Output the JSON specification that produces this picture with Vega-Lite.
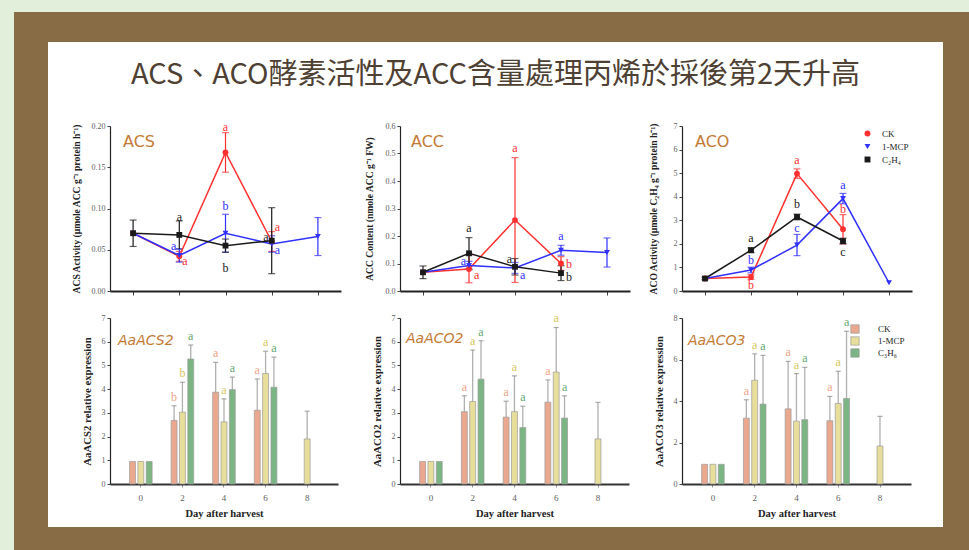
{
  "$schema": "https://vega.github.io/schema/vega-lite/v6.json",
  "background": "white",
  "padding": 0,
  "spacing": 0,
  "config": {
    "view": {"stroke": null},
    "axis": {"labelFont": "Liberation Serif", "titleFont": "Liberation Serif", "labelColor": "#606060", "titleColor": "#222", "titleFontWeight": "bold", "grid": false, "domainColor": "#222", "tickColor": "#444", "labelFontSize": 8, "labelPadding": 2, "tickSize": 3},
    "axisY": {"domainWidth": 1.2, "titleFontSize": 9.6},
    "axisX": {"domainWidth": 1.8},
    "legend": {"labelFont": "Liberation Serif", "labelFontSize": 9, "labelColor": "#222"},
    "text": {"font": "Liberation Serif"},
    "title": {"font": "DejaVu Sans", "fontWeight": "normal", "color": "#c47a35", "anchor": "start", "frame": "group", "baseline": "alphabetic"}
  },
  "datasets": {
    "acs": [
      {"day": 0, "series": "CK", "value": 0.070, "err": 0},
      {"day": 2, "series": "CK", "value": 0.042, "err": 0.006},
      {"day": 4, "series": "CK", "value": 0.168, "err": 0.024},
      {"day": 6, "series": "CK", "value": 0.060, "err": 0.012},
      {"day": 0, "series": "1-MCP", "value": 0.070, "err": 0},
      {"day": 2, "series": "1-MCP", "value": 0.043, "err": 0.008},
      {"day": 4, "series": "1-MCP", "value": 0.070, "err": 0.023},
      {"day": 6, "series": "1-MCP", "value": 0.057, "err": 0.010},
      {"day": 8, "series": "1-MCP", "value": 0.066, "err": 0.023},
      {"day": 0, "series": "C₂H₄", "value": 0.070, "err": 0.016},
      {"day": 2, "series": "C₂H₄", "value": 0.068, "err": 0.017},
      {"day": 4, "series": "C₂H₄", "value": 0.055, "err": 0.008},
      {"day": 6, "series": "C₂H₄", "value": 0.061, "err": 0.040}
    ],
    "acsL": [
      {"day": 2, "series": "C₂H₄", "value": 0.090, "t": "a", "side": "c"},
      {"day": 2, "series": "1-MCP", "value": 0.054, "t": "a", "side": "l"},
      {"day": 2, "series": "CK", "value": 0.036, "t": "a", "side": "r"},
      {"day": 4, "series": "CK", "value": 0.199, "t": "a", "side": "c"},
      {"day": 4, "series": "1-MCP", "value": 0.103, "t": "b", "side": "c"},
      {"day": 4, "series": "C₂H₄", "value": 0.028, "t": "b", "side": "c"},
      {"day": 6, "series": "CK", "value": 0.077, "t": "a", "side": "r"},
      {"day": 6, "series": "C₂H₄", "value": 0.066, "t": "a", "side": "l"},
      {"day": 6, "series": "1-MCP", "value": 0.050, "t": "a", "side": "r"}
    ],
    "acc": [
      {"day": 0, "series": "CK", "value": 0.068, "err": 0},
      {"day": 2, "series": "CK", "value": 0.080, "err": 0.05},
      {"day": 4, "series": "CK", "value": 0.258, "err": 0.227},
      {"day": 6, "series": "CK", "value": 0.100, "err": 0.025},
      {"day": 0, "series": "1-MCP", "value": 0.068, "err": 0},
      {"day": 2, "series": "1-MCP", "value": 0.093, "err": 0.015},
      {"day": 4, "series": "1-MCP", "value": 0.084, "err": 0.02},
      {"day": 6, "series": "1-MCP", "value": 0.148, "err": 0.018},
      {"day": 8, "series": "1-MCP", "value": 0.140, "err": 0.053},
      {"day": 0, "series": "C₂H₄", "value": 0.068, "err": 0.023},
      {"day": 2, "series": "C₂H₄", "value": 0.137, "err": 0.057},
      {"day": 4, "series": "C₂H₄", "value": 0.088, "err": 0.03},
      {"day": 6, "series": "C₂H₄", "value": 0.065, "err": 0.027}
    ],
    "accL": [
      {"day": 2, "series": "C₂H₄", "value": 0.228, "t": "a", "side": "c"},
      {"day": 2, "series": "1-MCP", "value": 0.109, "t": "a", "side": "l"},
      {"day": 2, "series": "CK", "value": 0.057, "t": "a", "side": "r"},
      {"day": 4, "series": "CK", "value": 0.521, "t": "a", "side": "c"},
      {"day": 4, "series": "C₂H₄", "value": 0.118, "t": "a", "side": "l"},
      {"day": 4, "series": "1-MCP", "value": 0.058, "t": "a", "side": "r"},
      {"day": 6, "series": "1-MCP", "value": 0.200, "t": "a", "side": "c"},
      {"day": 6, "series": "CK", "value": 0.100, "t": "b", "side": "r"},
      {"day": 6, "series": "C₂H₄", "value": 0.052, "t": "b", "side": "r"}
    ],
    "aco": [
      {"day": 0, "series": "CK", "value": 0.53, "err": 0},
      {"day": 2, "series": "CK", "value": 0.59, "err": 0.1},
      {"day": 4, "series": "CK", "value": 4.98, "err": 0.2},
      {"day": 6, "series": "CK", "value": 2.62, "err": 0.62},
      {"day": 0, "series": "1-MCP", "value": 0.53, "err": 0},
      {"day": 2, "series": "1-MCP", "value": 0.89, "err": 0.12},
      {"day": 4, "series": "1-MCP", "value": 1.95, "err": 0.45},
      {"day": 6, "series": "1-MCP", "value": 3.92, "err": 0.22},
      {"day": 8, "series": "1-MCP", "value": 0.35, "err": 0},
      {"day": 0, "series": "C₂H₄", "value": 0.53, "err": 0.05},
      {"day": 2, "series": "C₂H₄", "value": 1.73, "err": 0.1},
      {"day": 4, "series": "C₂H₄", "value": 3.14, "err": 0.12},
      {"day": 6, "series": "C₂H₄", "value": 2.12, "err": 0.12}
    ],
    "acoL": [
      {"day": 2, "series": "C₂H₄", "value": 2.26, "t": "a", "side": "c"},
      {"day": 2, "series": "1-MCP", "value": 1.30, "t": "b", "side": "c"},
      {"day": 2, "series": "CK", "value": 0.25, "t": "b", "side": "c"},
      {"day": 4, "series": "CK", "value": 5.54, "t": "a", "side": "c"},
      {"day": 4, "series": "C₂H₄", "value": 3.68, "t": "b", "side": "c"},
      {"day": 4, "series": "1-MCP", "value": 2.66, "t": "c", "side": "c"},
      {"day": 6, "series": "1-MCP", "value": 4.50, "t": "a", "side": "c"},
      {"day": 6, "series": "CK", "value": 3.49, "t": "b", "side": "c"},
      {"day": 6, "series": "C₂H₄", "value": 1.67, "t": "c", "side": "c"}
    ],
    "acs2": [
      {"day": 0, "series": "CK", "value": 0.95},
      {"day": 0, "series": "1-MCP", "value": 0.95},
      {"day": 0, "series": "C₃H₆", "value": 0.95},
      {"day": 2, "series": "CK", "value": 2.68, "hi": 3.30, "t": "b"},
      {"day": 2, "series": "1-MCP", "value": 3.03, "hi": 4.29, "t": "b"},
      {"day": 2, "series": "C₃H₆", "value": 5.27, "hi": 5.86, "t": "a"},
      {"day": 4, "series": "CK", "value": 3.87, "hi": 5.13, "t": "a"},
      {"day": 4, "series": "1-MCP", "value": 2.62, "hi": 3.59, "t": "a"},
      {"day": 4, "series": "C₃H₆", "value": 3.98, "hi": 4.51, "t": "a"},
      {"day": 6, "series": "CK", "value": 3.11, "hi": 4.43, "t": "a"},
      {"day": 6, "series": "1-MCP", "value": 4.66, "hi": 5.60, "t": "a"},
      {"day": 6, "series": "C₃H₆", "value": 4.08, "hi": 5.35, "t": "a"},
      {"day": 8, "series": "1-MCP", "value": 1.90, "hi": 3.07}
    ],
    "aco2": [
      {"day": 0, "series": "CK", "value": 0.95},
      {"day": 0, "series": "1-MCP", "value": 0.95},
      {"day": 0, "series": "C₃H₆", "value": 0.95},
      {"day": 2, "series": "CK", "value": 3.05, "hi": 3.72, "t": "a"},
      {"day": 2, "series": "1-MCP", "value": 3.48, "hi": 5.65, "t": "a"},
      {"day": 2, "series": "C₃H₆", "value": 4.42, "hi": 6.04, "t": "a"},
      {"day": 4, "series": "CK", "value": 2.82, "hi": 3.49, "t": "a"},
      {"day": 4, "series": "1-MCP", "value": 3.05, "hi": 4.56, "t": "a"},
      {"day": 4, "series": "C₃H₆", "value": 2.38, "hi": 3.28, "t": "a"},
      {"day": 6, "series": "CK", "value": 3.45, "hi": 4.39, "t": "a"},
      {"day": 6, "series": "1-MCP", "value": 4.72, "hi": 6.60, "t": "a"},
      {"day": 6, "series": "C₃H₆", "value": 2.78, "hi": 3.72, "t": "a"},
      {"day": 8, "series": "1-MCP", "value": 1.90, "hi": 3.44}
    ],
    "aco3": [
      {"day": 0, "series": "CK", "value": 0.95},
      {"day": 0, "series": "1-MCP", "value": 0.95},
      {"day": 0, "series": "C₃H₆", "value": 0.95},
      {"day": 2, "series": "CK", "value": 3.17, "hi": 4.06, "t": "a"},
      {"day": 2, "series": "1-MCP", "value": 5.00, "hi": 6.27, "t": "a"},
      {"day": 2, "series": "C₃H₆", "value": 3.85, "hi": 6.20, "t": "a"},
      {"day": 4, "series": "CK", "value": 3.62, "hi": 5.91, "t": "a"},
      {"day": 4, "series": "1-MCP", "value": 3.03, "hi": 5.32, "t": "a"},
      {"day": 4, "series": "C₃H₆", "value": 3.10, "hi": 5.62, "t": "a"},
      {"day": 6, "series": "CK", "value": 3.05, "hi": 4.22, "t": "a"},
      {"day": 6, "series": "1-MCP", "value": 3.88, "hi": 5.43, "t": "a"},
      {"day": 6, "series": "C₃H₆", "value": 4.12, "hi": 7.36, "t": "a"},
      {"day": 8, "series": "1-MCP", "value": 1.83, "hi": 3.26}
    ]
  },
  "vconcat": [
    {"width": 969, "height": 12, "data": {"values": []}, "mark": "point", "view": {"fill": "#e2efda", "stroke": null}},
    {
      "spacing": 0,
      "hconcat": [
        {"width": 14, "height": 538, "data": {"values": []}, "mark": "point", "view": {"fill": "#e2efda", "stroke": null}},
        {"width": 34, "height": 538, "data": {"values": []}, "mark": "point", "view": {"fill": "#876c46", "stroke": null}},
        {
          "spacing": 0,
          "vconcat": [
            {"width": 895, "height": 30, "data": {"values": []}, "mark": "point", "view": {"fill": "#876c46", "stroke": null}},
            {
              "width": 895, "height": 78,
              "data": {"values": [{"t": "ACS、ACO酵素活性及ACC含量處理丙烯於採後第2天升高"}]},
              "mark": {"type": "text", "font": "Noto Sans CJK TC", "fontSize": 29, "fontWeight": "normal", "color": "#4e4032", "dy": -6, "baseline": "middle", "align": "center"},
              "encoding": {"text": {"field": "t"}}
            },
            {
              "columns": 6, "spacing": 0, "bounds": "flush", "align": "each",
              "concat": [
                {"width": 61.3, "height": 165, "data": {"values": []}, "mark": "point"},
                {
                  "width": 231, "height": 165,
                  "title": {"text": "ACS", "offset": -29, "dx": 13, "fontSize": 16},
                  "data": {"name": "acs"},
                  "encoding": {
                    "x": {"field": "day", "type": "quantitative", "scale": {"domain": [-1, 9], "nice": false, "zero": false}, "axis": {"values": [0, 2, 4, 6, 8], "labels": false, "title": null, "tickSize": 4}},
                    "y": {"field": "value", "type": "quantitative", "scale": {"domain": [0, 0.2], "nice": false}, "axis": {"values": [0, 0.05, 0.1, 0.15, 0.2], "format": ".2f", "title": "ACS Activity (μmole ACC g⁻¹ protein h⁻¹)", "titlePadding": 10}},
                    "color": {"field": "series", "type": "nominal", "scale": {"domain": ["CK", "1-MCP", "C₂H₄"], "range": ["#ff3030", "#3030ff", "#1a1a1a"]}, "legend": null}
                  },
                  "layer": [
                    {"transform": [{"filter": "datum.err > 0"}], "mark": {"type": "errorbar", "ticks": {"size": 7}, "thickness": 1.2}, "encoding": {"yError": {"field": "err"}}},
                    {"mark": {"type": "line", "strokeWidth": 1.5}},
                    {"mark": {"type": "point", "filled": true, "size": 34, "opacity": 1}, "encoding": {"shape": {"field": "series", "type": "nominal", "scale": {"domain": ["CK", "1-MCP", "C₂H₄"], "range": ["circle", "triangle-down", "square"]}, "legend": null}}},
                    {"data": {"name": "acsL"}, "transform": [{"filter": "datum.side == 'c'"}], "mark": {"type": "text", "fontSize": 12, "baseline": "middle", "align": "center"}, "encoding": {"text": {"field": "t"}}},
                    {"data": {"name": "acsL"}, "transform": [{"filter": "datum.side == 'l'"}], "mark": {"type": "text", "fontSize": 12, "baseline": "middle", "align": "right", "dx": -3}, "encoding": {"text": {"field": "t"}}},
                    {"data": {"name": "acsL"}, "transform": [{"filter": "datum.side == 'r'"}], "mark": {"type": "text", "fontSize": 12, "baseline": "middle", "align": "left", "dx": 3}, "encoding": {"text": {"field": "t"}}}
                  ]
                },
                {"width": 58.7, "height": 165, "data": {"values": []}, "mark": "point"},
                {
                  "width": 230, "height": 165,
                  "title": {"text": "ACC", "offset": -28, "dx": 11, "fontSize": 16},
                  "data": {"name": "acc"},
                  "encoding": {
                    "x": {"field": "day", "type": "quantitative", "scale": {"domain": [-1, 9], "nice": false, "zero": false}, "axis": {"values": [0, 2, 4, 6, 8], "labels": false, "title": null, "tickSize": 4}},
                    "y": {"field": "value", "type": "quantitative", "scale": {"domain": [0, 0.6], "nice": false}, "axis": {"values": [0, 0.1, 0.2, 0.3, 0.4, 0.5, 0.6], "format": ".1f", "title": "ACC Content (nmole ACC g⁻¹ FW)", "titlePadding": 11}},
                    "color": {"field": "series", "type": "nominal", "scale": {"domain": ["CK", "1-MCP", "C₂H₄"], "range": ["#ff3030", "#3030ff", "#1a1a1a"]}, "legend": null}
                  },
                  "layer": [
                    {"transform": [{"filter": "datum.err > 0"}], "mark": {"type": "errorbar", "ticks": {"size": 7}, "thickness": 1.2}, "encoding": {"yError": {"field": "err"}}},
                    {"mark": {"type": "line", "strokeWidth": 1.5}},
                    {"mark": {"type": "point", "filled": true, "size": 34, "opacity": 1}, "encoding": {"shape": {"field": "series", "type": "nominal", "scale": {"domain": ["CK", "1-MCP", "C₂H₄"], "range": ["circle", "triangle-down", "square"]}, "legend": null}}},
                    {"data": {"name": "accL"}, "transform": [{"filter": "datum.side == 'c'"}], "mark": {"type": "text", "fontSize": 12, "baseline": "middle", "align": "center"}, "encoding": {"text": {"field": "t"}}},
                    {"data": {"name": "accL"}, "transform": [{"filter": "datum.side == 'l'"}], "mark": {"type": "text", "fontSize": 12, "baseline": "middle", "align": "right", "dx": -3}, "encoding": {"text": {"field": "t"}}},
                    {"data": {"name": "accL"}, "transform": [{"filter": "datum.side == 'r'"}], "mark": {"type": "text", "fontSize": 12, "baseline": "middle", "align": "left", "dx": 5}, "encoding": {"text": {"field": "t"}}}
                  ]
                },
                {"width": 52, "height": 165, "data": {"values": []}, "mark": "point"},
                {
                  "width": 230, "height": 165,
                  "title": {"text": "ACO", "offset": -28, "dx": 13, "fontSize": 16},
                  "data": {"name": "aco"},
                  "encoding": {
                    "x": {"field": "day", "type": "quantitative", "scale": {"domain": [-1, 9], "nice": false, "zero": false}, "axis": {"values": [0, 2, 4, 6, 8], "labels": false, "title": null, "tickSize": 4}},
                    "y": {"field": "value", "type": "quantitative", "scale": {"domain": [0, 7], "nice": false}, "axis": {"values": [0, 1, 2, 3, 4, 5, 6, 7], "format": "d", "title": "ACO Activity (μmole C₂H₄ g⁻¹ protein h⁻¹)", "titlePadding": 15}}
                  },
                  "layer": [
                    {"transform": [{"filter": "datum.err > 0"}], "mark": {"type": "errorbar", "ticks": {"size": 7}, "thickness": 1.2}, "encoding": {"yError": {"field": "err"}, "color": {"field": "series", "type": "nominal", "scale": {"domain": ["CK", "1-MCP", "C₂H₄"], "range": ["#ff3030", "#3030ff", "#1a1a1a"]}, "legend": null}}},
                    {"mark": {"type": "line", "strokeWidth": 1.5}, "encoding": {"color": {"field": "series", "type": "nominal", "scale": {"domain": ["CK", "1-MCP", "C₂H₄"], "range": ["#ff3030", "#3030ff", "#1a1a1a"]}, "legend": null}}},
                    {"mark": {"type": "point", "filled": true, "size": 34, "opacity": 1}, "encoding": {
                      "color": {"field": "series", "type": "nominal", "scale": {"domain": ["CK", "1-MCP", "C₂H₄"], "range": ["#ff3030", "#3030ff", "#1a1a1a"]}, "legend": {"title": null, "orient": "top-right", "offset": 3, "symbolSize": 35, "rowPadding": 3, "labelOffset": 10}},
                      "shape": {"field": "series", "type": "nominal", "scale": {"domain": ["CK", "1-MCP", "C₂H₄"], "range": ["circle", "triangle-down", "square"]}, "legend": {"title": null, "orient": "top-right", "offset": 3, "symbolSize": 35, "rowPadding": 3, "labelOffset": 10}}}},
                    {"data": {"name": "acoL"}, "mark": {"type": "text", "fontSize": 12, "baseline": "middle", "align": "center"}, "encoding": {"text": {"field": "t"}, "color": {"field": "series", "type": "nominal", "scale": {"domain": ["CK", "1-MCP", "C₂H₄"], "range": ["#ff3030", "#3030ff", "#1a1a1a"]}, "legend": null}}}
                  ],
                  "resolve": {"scale": {"color": "independent", "shape": "independent"}, "legend": {"color": "independent", "shape": "independent"}}
                },
                {"width": 1, "height": 27, "data": {"values": []}, "mark": "point"},
                {"width": 1, "height": 1, "data": {"values": []}, "mark": "point"},
                {"width": 1, "height": 1, "data": {"values": []}, "mark": "point"},
                {"width": 1, "height": 1, "data": {"values": []}, "mark": "point"},
                {"width": 1, "height": 1, "data": {"values": []}, "mark": "point"},
                {"width": 1, "height": 1, "data": {"values": []}, "mark": "point"},
                {"width": 1, "height": 166, "data": {"values": []}, "mark": "point"},
                {
                  "width": 228, "height": 166,
                  "title": {"text": "AaACS2", "offset": -34, "dx": 8, "fontSize": 14, "fontStyle": "italic"},
                  "data": {"name": "acs2"},
                  "encoding": {
                    "x": {"field": "day", "type": "ordinal", "scale": {"paddingInner": 0.457, "paddingOuter": 0.47}, "axis": {"labelAngle": 0, "title": "Day after harvest", "domainColor": "#333", "domainWidth": 2, "tickColor": "#999", "tickSize": 3, "labelFontSize": 9, "labelPadding": 6, "titleFontSize": 10.5, "titlePadding": 6}},
                    "xOffset": {"field": "series", "type": "nominal", "scale": {"domain": ["CK", "1-MCP", "C₃H₆"], "paddingInner": 0.29}},
                    "y": {"field": "value", "type": "quantitative", "scale": {"domain": [0, 7], "nice": false}, "axis": {"values": [0, 1, 2, 3, 4, 5, 6, 7], "title": "AaACS2 relative expression", "titleFontSize": 10.8, "titlePadding": 9}}
                  },
                  "layer": [
                    {"transform": [{"filter": "datum.hi != null"}], "mark": {"type": "rule", "color": "#b0b0b0", "strokeWidth": 1.3}, "encoding": {"y2": {"field": "hi"}}},
                    {"transform": [{"filter": "datum.hi != null"}], "mark": {"type": "tick", "color": "#888", "thickness": 1.2, "size": 5}, "encoding": {"y": {"field": "hi", "type": "quantitative", "title": "AaACS2 relative expression"}}},
                    {"mark": {"type": "bar", "stroke": "#999", "strokeWidth": 0.7, "opacity": 1}, "encoding": {"color": {"field": "series", "type": "nominal", "scale": {"domain": ["CK", "1-MCP", "C₃H₆"], "range": ["#eaa98f", "#e8de9c", "#7cb584"]}, "legend": null}}},
                    {"transform": [{"filter": "datum.t != null"}], "mark": {"type": "text", "fontSize": 12, "baseline": "bottom", "dy": -2, "align": "center"},
                     "encoding": {"y": {"field": "hi", "type": "quantitative", "title": "AaACS2 relative expression"}, "text": {"field": "t"},
                       "color": {"field": "series", "type": "nominal", "scale": {"domain": ["CK", "1-MCP", "C₃H₆"], "range": ["#f0a285", "#d6c65a", "#64a870"]}, "legend": null}}}
                  ],
                  "resolve": {"scale": {"color": "independent"}}
                },
                {"width": 1, "height": 166, "data": {"values": []}, "mark": "point"},
                {
                  "width": 229, "height": 166,
                  "title": {"text": "AaACO2", "offset": -34, "dx": 6, "fontSize": 14, "fontStyle": "italic"},
                  "data": {"name": "aco2"},
                  "encoding": {
                    "x": {"field": "day", "type": "ordinal", "scale": {"paddingInner": 0.457, "paddingOuter": 0.47}, "axis": {"labelAngle": 0, "title": "Day after harvest", "domainColor": "#333", "domainWidth": 2, "tickColor": "#999", "tickSize": 3, "labelFontSize": 9, "labelPadding": 6, "titleFontSize": 10.5, "titlePadding": 6}},
                    "xOffset": {"field": "series", "type": "nominal", "scale": {"domain": ["CK", "1-MCP", "C₃H₆"], "paddingInner": 0.29}},
                    "y": {"field": "value", "type": "quantitative", "scale": {"domain": [0, 7], "nice": false}, "axis": {"values": [0, 1, 2, 3, 4, 5, 6, 7], "title": "AaACO2 relative expression", "titleFontSize": 10.8, "titlePadding": 9}}
                  },
                  "layer": [
                    {"transform": [{"filter": "datum.hi != null"}], "mark": {"type": "rule", "color": "#b0b0b0", "strokeWidth": 1.3}, "encoding": {"y2": {"field": "hi"}}},
                    {"transform": [{"filter": "datum.hi != null"}], "mark": {"type": "tick", "color": "#888", "thickness": 1.2, "size": 5}, "encoding": {"y": {"field": "hi", "type": "quantitative", "title": "AaACO2 relative expression"}}},
                    {"mark": {"type": "bar", "stroke": "#999", "strokeWidth": 0.7, "opacity": 1}, "encoding": {"color": {"field": "series", "type": "nominal", "scale": {"domain": ["CK", "1-MCP", "C₃H₆"], "range": ["#eaa98f", "#e8de9c", "#7cb584"]}, "legend": null}}},
                    {"transform": [{"filter": "datum.t != null"}], "mark": {"type": "text", "fontSize": 12, "baseline": "bottom", "dy": -2, "align": "center"},
                     "encoding": {"y": {"field": "hi", "type": "quantitative", "title": "AaACO2 relative expression"}, "text": {"field": "t"},
                       "color": {"field": "series", "type": "nominal", "scale": {"domain": ["CK", "1-MCP", "C₃H₆"], "range": ["#f0a285", "#d6c65a", "#64a870"]}, "legend": null}}}
                  ],
                  "resolve": {"scale": {"color": "independent"}}
                },
                {"width": 1, "height": 166, "data": {"values": []}, "mark": "point"},
                {
                  "width": 229, "height": 166,
                  "title": {"text": "AaACO3", "offset": -34, "dx": 6, "fontSize": 14, "fontStyle": "italic"},
                  "data": {"name": "aco3"},
                  "encoding": {
                    "x": {"field": "day", "type": "ordinal", "scale": {"paddingInner": 0.457, "paddingOuter": 0.47}, "axis": {"labelAngle": 0, "title": "Day after harvest", "domainColor": "#333", "domainWidth": 2, "tickColor": "#999", "tickSize": 3, "labelFontSize": 9, "labelPadding": 6, "titleFontSize": 10.5, "titlePadding": 6}},
                    "xOffset": {"field": "series", "type": "nominal", "scale": {"domain": ["CK", "1-MCP", "C₃H₆"], "paddingInner": 0.29}},
                    "y": {"field": "value", "type": "quantitative", "scale": {"domain": [0, 8], "nice": false}, "axis": {"values": [0, 2, 4, 6, 8], "title": "AaACO3 relative expression", "titleFontSize": 10.8, "titlePadding": 9}}
                  },
                  "layer": [
                    {"transform": [{"filter": "datum.hi != null"}], "mark": {"type": "rule", "color": "#b0b0b0", "strokeWidth": 1.3}, "encoding": {"y2": {"field": "hi"}}},
                    {"transform": [{"filter": "datum.hi != null"}], "mark": {"type": "tick", "color": "#888", "thickness": 1.2, "size": 5}, "encoding": {"y": {"field": "hi", "type": "quantitative", "title": "AaACO3 relative expression"}}},
                    {"mark": {"type": "bar", "stroke": "#999", "strokeWidth": 0.7, "opacity": 1}, "encoding": {"color": {"field": "series", "type": "nominal", "scale": {"domain": ["CK", "1-MCP", "C₃H₆"], "range": ["#eaa98f", "#e8de9c", "#7cb584"]}, "legend": {"title": null, "orient": "top-right", "offset": 6, "symbolType": "square", "symbolSize": 70, "symbolStrokeColor": "#999", "symbolStrokeWidth": 0.7, "rowPadding": 0, "labelOffset": 18, "padding": 0}}}},
                    {"transform": [{"filter": "datum.t != null"}], "mark": {"type": "text", "fontSize": 12, "baseline": "bottom", "dy": -2, "align": "center"},
                     "encoding": {"y": {"field": "hi", "type": "quantitative", "title": "AaACO3 relative expression"}, "text": {"field": "t"},
                       "color": {"field": "series", "type": "nominal", "scale": {"domain": ["CK", "1-MCP", "C₃H₆"], "range": ["#f0a285", "#d6c65a", "#64a870"]}, "legend": null}}}
                  ],
                  "resolve": {"scale": {"color": "independent"}}
                }
              ]
            },
            {"width": 895, "height": 8, "data": {"values": []}, "mark": "point"},
            {"width": 895, "height": 24, "data": {"values": []}, "mark": "point", "view": {"fill": "#876c46", "stroke": null}}
          ]
        },
        {"width": 26, "height": 538, "data": {"values": []}, "mark": "point", "view": {"fill": "#876c46", "stroke": null}}
      ]
    }
  ]
}
